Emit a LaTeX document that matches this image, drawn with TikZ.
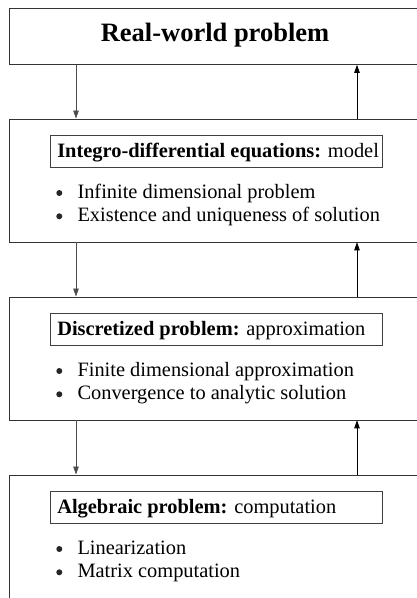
\documentclass[tikz,border=0pt]{standalone}
\usepackage{fontspec}
\setmainfont{Liberation Serif}
\usetikzlibrary{arrows.meta}
\tikzset{
  outerbox/.style={draw=black!80, line width=0.8pt, anchor=north west, minimum width=412pt, inner sep=0pt},
  headbox/.style={draw=black!75, line width=0.6pt, anchor=north west, minimum width=332pt, minimum height=32.5pt, inner xsep=7pt, inner ysep=0pt, text height=18pt, text depth=4.5pt, font=\fontsize{20.4}{23.3}\selectfont},
  bulletline/.style={anchor=base west, inner sep=0pt, font=\fontsize{20.4}{23.3}\selectfont},
  dot/.style={circle, fill=black!85, inner sep=0pt, minimum size=6pt},
  downarrow/.style={draw=black!70, line width=0.7pt, -{Triangle[length=8pt,width=5.5pt]}},
  uparrow/.style={draw=black, line width=0.7pt, -{Triangle[length=8pt,width=5.5pt]}}
}
\newcommand{\hdr}[2]{\makebox[318pt][l]{\textbf{#1} #2}}
\begin{document}
\begin{tikzpicture}[x=1pt,y=-1pt]
\useasboundingbox (0,0) rectangle (417,598);
\clip (0,0) rectangle (417,598);
% outer boxes
\node[outerbox, minimum height=56pt] (b1) at (9,8) {};
\node[outerbox, minimum height=123pt] (b2) at (9,118.5) {};
\node[outerbox, minimum height=123pt] (b3) at (9,296.5) {};
\node[outerbox, minimum height=123pt] (b4) at (9,474.5) {};
% title
\node[anchor=base, inner sep=0pt, font=\fontsize{26.5}{30}\selectfont\bfseries] (t1) at (215,41.7) {Real-world problem};
% box 2
\node[headbox] (h2) at (50,134.5) {\hdr{Integro-differential equations:}{model}};
\node[dot] (d21) at (59.3,193) {};
\node[bulletline] (p21) at (77.3,198) {Infinite dimensional problem};
\node[dot] (d22) at (59.3,216.3) {};
\node[bulletline] (p22) at (77.3,221.3) {Existence and uniqueness of solution};
% box 3
\node[headbox] (h3) at (50,312.5) {\hdr{Discretized problem:}{approximation}};
\node[dot] (d31) at (59.3,371) {};
\node[bulletline] (p31) at (77.3,376) {Finite dimensional approximation};
\node[dot] (d32) at (59.3,394.3) {};
\node[bulletline] (p32) at (77.3,399.3) {Convergence to analytic solution};
% box 4
\node[headbox] (h4) at (50,490.5) {\hdr{Algebraic problem:}{computation}};
\node[dot] (d41) at (59.3,549) {};
\node[bulletline] (p41) at (77.3,554) {Linearization};
\node[dot] (d42) at (59.3,572.3) {};
\node[bulletline] (p42) at (77.3,577.3) {Matrix computation};
% arrow positions
\coordinate (dn) at (76,0);
\coordinate (up) at (357,0);
\draw[downarrow] (b1.south -| dn) -- (b2.north -| dn);
\draw[downarrow] (b2.south -| dn) -- (b3.north -| dn);
\draw[downarrow] (b3.south -| dn) -- (b4.north -| dn);
\draw[uparrow] (b2.north -| up) -- (b1.south -| up);
\draw[uparrow] (b3.north -| up) -- (b2.south -| up);
\draw[uparrow] (b4.north -| up) -- (b3.south -| up);
\end{tikzpicture}
\end{document}
